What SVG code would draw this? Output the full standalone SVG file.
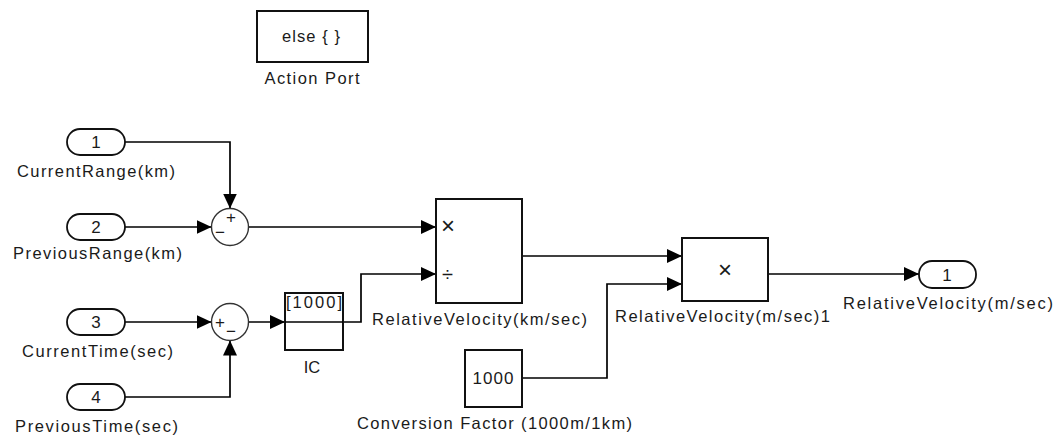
<svg xmlns="http://www.w3.org/2000/svg" width="1055" height="436" viewBox="0 0 1055 436">
<defs>
<marker id="arr" markerUnits="userSpaceOnUse" markerWidth="16" markerHeight="14" refX="15" refY="7" orient="auto">
<path d="M0,0 L15,7 L0,14 z" fill="#000"/>
</marker>
<style>
.blk{fill:#fff;stroke:#111;stroke-width:2}
.port{fill:#fff;stroke:#111;stroke-width:1.8}
.sum{fill:#fff;stroke:#333;stroke-width:1.4}
.ln{fill:none;stroke:#000;stroke-width:1.7}
.ar{marker-end:url(#arr)}
text{font-family:"Liberation Sans",Arial,sans-serif;font-size:16.5px;fill:#1a1a1a}
.c{text-anchor:middle}
.d{font-size:17px}
.sym{font-size:17px}
</style>
</defs>
<rect width="1055" height="436" fill="#fff"/>

<g id="connectors">
<path class="ln ar" d="M125,142 H230 V208.5"/>
<path class="ln ar" d="M125,227 H211.5"/>
<path class="ln ar" d="M248.5,227 H436"/>
<path class="ln ar" d="M125,322 H211.5"/>
<path class="ln ar" d="M125,397 H230 V340.5"/>
<path class="ln ar" d="M248.5,322 H285"/>
<path class="ln ar" d="M343,322 H361 V274 H436"/>
<path class="ln ar" d="M522,256 H682"/>
<path class="ln ar" d="M522,378 H607 V284 H682"/>
<path class="ln ar" d="M768,274 H919"/>
</g>

<g id="action-port">
<rect class="blk" x="257" y="11" width="111" height="51"/>
<text class="c" x="311" y="42" textLength="58" lengthAdjust="spacing">else { }</text>
<text class="c" x="312" y="84" textLength="95" lengthAdjust="spacing">Action Port</text>
</g>

<g id="in1">
<rect class="port" x="67" y="129" width="58" height="26" rx="13"/>
<text class="c d" x="96" y="148">1</text>
<text x="17" y="177" textLength="158" lengthAdjust="spacing">CurrentRange(km)</text>
</g>

<g id="in2">
<rect class="port" x="67" y="214" width="58" height="26" rx="13"/>
<text class="c d" x="96" y="233">2</text>
<text x="13" y="258.5" textLength="169" lengthAdjust="spacing">PreviousRange(km)</text>
</g>

<g id="in3">
<rect class="port" x="67" y="309" width="58" height="26" rx="13"/>
<text class="c d" x="96" y="328">3</text>
<text x="22" y="357" textLength="151" lengthAdjust="spacing">CurrentTime(sec)</text>
</g>

<g id="in4">
<rect class="port" x="67" y="384" width="58" height="26" rx="13"/>
<text class="c d" x="96" y="403">4</text>
<text x="15" y="432" textLength="163" lengthAdjust="spacing">PreviousTime(sec)</text>
</g>

<g id="sum1">
<circle class="sum" cx="230" cy="227" r="18.5"/>
<text class="c sym" x="231" y="223">+</text>
<text class="c sym" x="220" y="238">−</text>
</g>

<g id="sum2">
<circle class="sum" cx="230" cy="322" r="18.5"/>
<text class="c sym" x="220" y="328">+</text>
<text class="c sym" x="231" y="337">−</text>
</g>

<g id="ic">
<rect class="blk" x="285" y="293" width="58" height="57"/>
<path class="ln" d="M285,322 H343"/>
<text class="c" x="314" y="307.5" textLength="56" lengthAdjust="spacing">[1000]</text>
<text class="c" x="312" y="372.5">IC</text>
</g>

<g id="product-km">
<rect class="blk" x="436" y="199" width="86" height="104"/>
<text x="441" y="234" style="font-size:24px">×</text>
<text x="442" y="281" style="font-size:20px">÷</text>
<text x="372" y="324.5" textLength="215" lengthAdjust="spacing">RelativeVelocity(km/sec)</text>
</g>

<g id="product-m">
<rect class="blk" x="682" y="238" width="86" height="63"/>
<text class="c" x="725" y="278" style="font-size:24px">×</text>
<text x="615" y="322" textLength="215" lengthAdjust="spacing">RelativeVelocity(m/sec)1</text>
</g>

<g id="conversion-factor">
<rect class="blk" x="465" y="350" width="57" height="57"/>
<text class="c d" x="493" y="384" textLength="41" lengthAdjust="spacing">1000</text>
<text x="357" y="429" textLength="275" lengthAdjust="spacing">Conversion Factor (1000m/1km)</text>
</g>

<g id="out1">
<rect class="port" x="919" y="261" width="57" height="27" rx="13"/>
<text class="c d" x="947" y="280.5">1</text>
<text x="843" y="309" textLength="210" lengthAdjust="spacing">RelativeVelocity(m/sec)</text>
</g>
</svg>
